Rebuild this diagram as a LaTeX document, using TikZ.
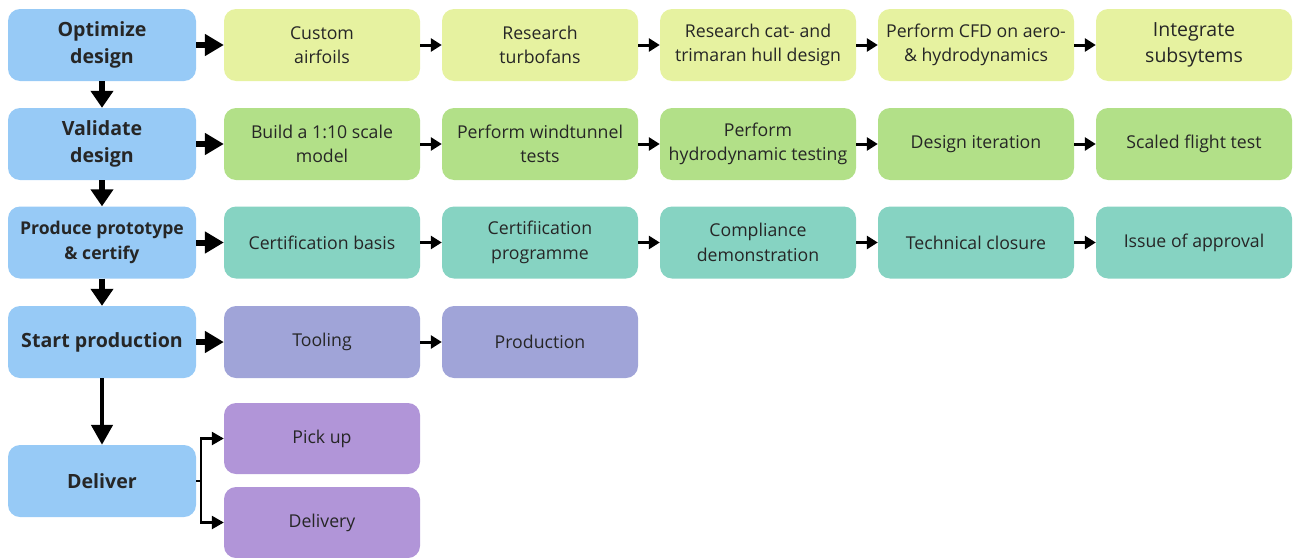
\documentclass[tikz,border=0pt]{standalone}
\usepackage{fontspec}
\setmainfont{Open Sans}
\usetikzlibrary{arrows.meta,calc}
\definecolor{stageblue}{HTML}{97CAF6}
\definecolor{optfill}{HTML}{E6F2A0}
\definecolor{valfill}{HTML}{B2E088}
\definecolor{certfill}{HTML}{86D3C2}
\definecolor{prodfill}{HTML}{A0A4D8}
\definecolor{delfill}{HTML}{B195D8}
\definecolor{txt}{HTML}{262626}
\tikzset{
  stage/.style={rounded corners=12pt, fill=stageblue, minimum width=188pt, minimum height=72pt,
    inner sep=0pt, align=center, text=txt, font=\bfseries\fontsize{19.6}{26.5}\selectfont},
  task/.style={rounded corners=12pt, minimum width=196pt, minimum height=72pt,
    inner sep=0pt, align=center, text=txt, font=\fontsize{17.7}{24.5}\selectfont},
  bigarrow/.style={line width=6pt, -{Triangle[length=19pt,width=21pt]}},
  downarrow/.style={line width=6pt, -{Triangle[length=17pt,width=22pt]}},
  longdown/.style={line width=4.5pt, -{Triangle[length=20pt,width=21pt]}},
  smallarrow/.style={line width=3pt, -{Triangle[length=11pt,width=13pt]}},
  branch/.style={line width=2.5pt},
  brancharrow/.style={line width=2.5pt, -{Triangle[length=12pt,width=13pt]}},
}
\begin{document}
\begin{tikzpicture}[x=1pt,y=-1pt]
\useasboundingbox (0,0) rectangle (1293,557);
% stage column
\node[stage] (s1) at (102,45) {Optimize\\design};
\node[stage] (s2) at (102,144) {Validate\\design};
\node[stage, font=\bfseries\fontsize{17.6}{24.5}\selectfont] (s3) at (102,242.5) {Produce prototype\\\& certify};
\node[stage] (s4) at (102,342) {Start production};
\node[stage] (s5) at (102,481) {Deliver};
% optimize row
\node[task, fill=optfill] (a1) at (322,45) {Custom\\airfoils};
\node[task, fill=optfill] (a2) at (540,45) {Research\\turbofans};
\node[task, fill=optfill] (a3) at (758,45) {Research cat- and\\trimaran hull design};
\node[task, fill=optfill] (a4) at (976,45) {Perform CFD on aero-\\\& hydrodynamics};
\node[task, fill=optfill, font=\fontsize{19.5}{25.5}\selectfont] (a5) at (1194,45) {Integrate\\subsytems};
% validate row
\node[task, fill=valfill] (b1) at (322,144) {Build a 1:10 scale\\model};
\node[task, fill=valfill] (b2) at (540,144) {Perform windtunnel\\tests};
\node[task, fill=valfill] (b3) at (758,144) {Perform\\hydrodynamic testing};
\node[task, fill=valfill] (b4) at (976,144) {Design iteration};
\node[task, fill=valfill] (b5) at (1194,144) {Scaled flight test};
% certify row
\node[task, fill=certfill] (c1) at (322,242.5) {Certification basis};
\node[task, fill=certfill] (c2) at (540,242.5) {Certifiication\\programme};
\node[task, fill=certfill] (c3) at (758,242.5) {Compliance\\demonstration};
\node[task, fill=certfill] (c4) at (976,242.5) {Technical closure};
\node[task, fill=certfill] (c5) at (1194,242.5) {Issue of approval};
% production row
\node[task, fill=prodfill] (d1) at (322,342) {Tooling};
\node[task, fill=prodfill] (d2) at (540,342) {Production};
% delivery options
\node[task, fill=delfill, minimum height=71pt] (e1) at (322,438.5) {Pick up};
\node[task, fill=delfill, minimum height=71pt] (e2) at (322,522.5) {Delivery};
% stage flow
\draw[downarrow] (s1.south) -- (s2.north);
\draw[downarrow] (s2.south) -- (s3.north);
\draw[downarrow] (s3.south) -- (s4.north);
\draw[longdown] (s4.south) -- (s5.north);
% stage to first task
\foreach \s/\t in {s1/a1, s2/b1, s3/c1, s4/d1}
  \draw[bigarrow] (\s.east) -- (\t.west);
% task chains
\foreach \p/\q in {a1/a2, a2/a3, a3/a4, a4/a5, b1/b2, b2/b3, b3/b4, b4/b5, c1/c2, c2/c3, c3/c4, c4/c5, d1/d2}
  \draw[smallarrow] (\p.east) -- (\q.west);
% delivery branch
\coordinate (fork) at ($(s5.east)+(5,0)$);
\draw[branch] (s5.east) -- (fork);
\draw[brancharrow] (fork) |- (e1.west);
\draw[brancharrow] (fork) |- (e2.west);
\end{tikzpicture}
\end{document}
